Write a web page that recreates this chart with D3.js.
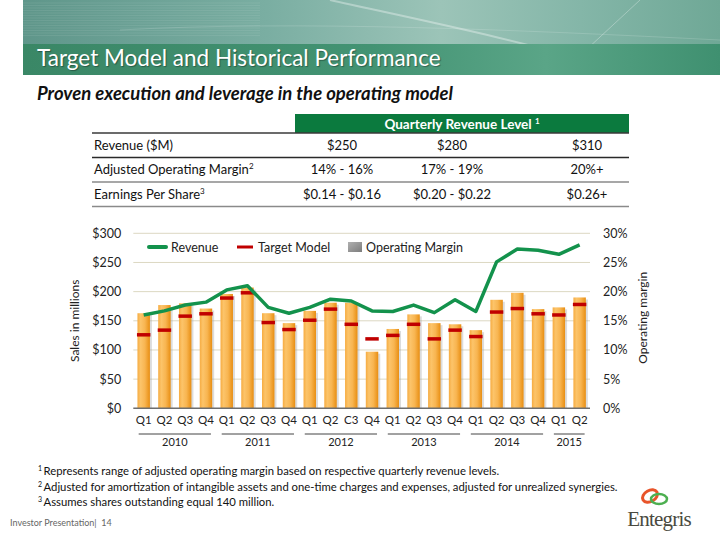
<!DOCTYPE html>
<html><head><meta charset="utf-8">
<script src="https://cdn.jsdelivr.net/npm/d3@7"></script>
<style>
body{margin:0;background:#fff;}
svg{display:block;font-family:Lato, "Open Sans", sans-serif;}
</style></head>
<body>
<script>
// ---------- data ----------
const quarters = ["Q1","Q2","Q3","Q4","Q1","Q2","Q3","Q4","Q1","Q2","C3","Q4","Q1","Q2","Q3","Q4","Q1","Q2","Q3","Q4","Q1","Q2"];
const quarterYears = ["2010","2010","2010","2010","2011","2011","2011","2011","2012","2012","2012","2012","2013","2013","2013","2013","2014","2014","2014","2014","2015","2015"];
const yearLabels = ["2010","2011","2012","2013","2014","2015"];
const revenue = [160,167,177,182,203,210,173,163,173,187,184,167,166,177,164,186,166,251,273,271,264,280];
const operatingMargin = [16.3,17.7,18.0,17.1,19.6,20.7,16.3,14.6,16.7,18.1,18.1,9.7,13.6,16.1,14.6,14.4,13.4,18.6,19.8,17.0,17.3,19.0];
const targetModel = [12.6,13.4,15.8,16.2,18.9,19.8,14.7,13.5,15.1,17.0,14.4,11.9,12.5,14.4,11.9,13.4,12.3,16.5,17.1,16.2,16.0,17.8];
const leftTicks = [0,50,100,150,200,250,300];
const rightTicks = [0,5,10,15,20,25,30];
const legendItems = ["Revenue","Target Model","Operating Margin"];

const tableRowLabels = ["Revenue ($M)","Adjusted Operating Margin","Earnings Per Share"];
const tableRowSups = ["","2","3"];
const tableCol250 = ["$250","14% - 16%","$0.14 - $0.16"];
const tableCol280 = ["$280","17% - 19%","$0.20 - $0.22"];
const tableCol310 = ["$310","20%+","$0.26+"];
const footnotes = [
  ["1","Represents range of adjusted operating margin based on respective quarterly revenue levels."],
  ["2","Adjusted for amortization of intangible assets and one-time charges and expenses, adjusted for unrealized synergies."],
  ["3","Assumes shares outstanding equal 140 million."]
];

// ---------- svg ----------
const W=720,H=540;
const svg=d3.select("body").append("svg").attr("width",W).attr("height",H);
const defs=svg.append("defs");

// header gradients
const hg1=defs.append("linearGradient").attr("id","hdrTop").attr("x1","0").attr("x2","1").attr("y1","0").attr("y2","0");
[[0,"#5f968a"],[0.35,"#7aaea2"],[0.6,"#9cc4b8"],[0.8,"#84b6a8"],[1,"#6fa896"]].forEach(s=>hg1.append("stop").attr("offset",s[0]).attr("stop-color",s[1]));
const hg2=defs.append("linearGradient").attr("id","hdrBand").attr("x1","0").attr("x2","1").attr("y1","0").attr("y2","0");
[[0,"#3a8766"],[0.5,"#439373"],[0.75,"#5aa587"],[1,"#3f9070"]].forEach(s=>hg2.append("stop").attr("offset",s[0]).attr("stop-color",s[1]));
const bg=defs.append("linearGradient").attr("id","barGrad").attr("x1","0").attr("x2","1").attr("y1","0").attr("y2","0");
[[0,"#f6ac42"],[0.25,"#fcc46a"],[0.6,"#f8b551"],[1,"#e88e12"]].forEach(s=>bg.append("stop").attr("offset",s[0]).attr("stop-color",s[1]));
const lg=defs.append("linearGradient").attr("id","legGrad").attr("x1","0").attr("x2","1").attr("y1","0").attr("y2","1");
[[0,"#b0b0b0"],[1,"#7c7c7c"]].forEach(s=>lg.append("stop").attr("offset",s[0]).attr("stop-color",s[1]));

// header
svg.append("rect").attr("x",23).attr("y",0).attr("width",W-23).attr("height",44).attr("fill","url(#hdrTop)");
for(let i=0;i<14;i++){
  svg.append("line").attr("x1",23).attr("x2",260).attr("y1",3+i*2.5).attr("y2",3+i*2.5)
    .attr("stroke","#ffffff").attr("stroke-opacity",0.08);
}
svg.append("path").attr("d","M330,0 C420,20 520,40 620,70").attr("stroke","#ffffff").attr("stroke-opacity",0.35).attr("fill","none").attr("stroke-width",2);
svg.append("path").attr("d","M560,74 L640,0").attr("stroke","#ffffff").attr("stroke-opacity",0.3).attr("fill","none");
svg.append("path").attr("d","M120,30 C300,20 520,30 720,40").attr("stroke","#ffffff").attr("stroke-opacity",0.15).attr("fill","none");
svg.append("rect").attr("x",23).attr("y",44).attr("width",W-23).attr("height",31).attr("fill","url(#hdrBand)");
svg.append("text").attr("x",37).attr("y",66).attr("fill","#fff").attr("font-size",22.5)
  .style("text-shadow","1px 1px 1px rgba(0,0,0,0.35)")
  .text("Target Model and Historical Performance");
svg.append("text").attr("x",37).attr("y",100).attr("fill","#111").attr("font-size",18.5)
  .attr("font-weight","bold").attr("font-style","italic")
  .text("Proven execution and leverage in the operating model");

// ---------- table ----------
const tX0=92,tX1=629;
const colCenters=[342,452,587];
svg.append("rect").attr("x",295).attr("y",114).attr("width",tX1-295).attr("height",19).attr("fill","#0b7a3e");
svg.append("text").attr("x",462).attr("y",128.5).attr("text-anchor","middle").attr("fill","#fff")
  .attr("font-size",13.5).attr("font-weight","bold")
  .text("Quarterly Revenue Level ").append("tspan").attr("font-size",8).attr("dy",-5).text("1");
const rowTop=[133,157.5,182];
const rowH=24.5;
svg.append("line").attr("x1",tX0).attr("x2",tX1).attr("y1",133).attr("y2",133).attr("stroke","#3a3a3a").attr("stroke-width",1.5);
tableRowLabels.forEach((lab,i)=>{
  const cy=rowTop[i]+rowH/2+4.5;
  const t=svg.append("text").attr("x",94).attr("y",cy).attr("font-size",13).attr("fill","#111").text(lab);
  if(tableRowSups[i]) t.append("tspan").attr("font-size",8).attr("dy",-5).text(tableRowSups[i]);
  [tableCol250,tableCol280,tableCol310].forEach((col,j)=>{
    svg.append("text").attr("x",colCenters[j]).attr("y",cy).attr("text-anchor","middle").attr("font-size",13).attr("fill","#111").text(col[i]);
  });
  svg.append("line").attr("x1",tX0).attr("x2",tX1).attr("y1",rowTop[i]+rowH).attr("y2",rowTop[i]+rowH)
    .attr("stroke",i===0?"#2a2a2a":"#8a8a8a").attr("stroke-width",i===0?1.3:1.5);
});

// ---------- chart ----------
const x0=133.3,x1=590,yB=408.3,yT=233.3;
const idx=quarters.map((q,i)=>i);
const x=d3.scaleBand().domain(idx).range([x0,x1]).paddingInner(0.4).paddingOuter(0.2);
const yL=d3.scaleLinear().domain([0,300]).range([yB,yT]);
const yR=d3.scaleLinear().domain([0,30]).range([yB,yT]);

// grid
svg.append("g").selectAll("line").data(leftTicks.filter(d=>d>0)).join("line")
  .attr("x1",x0).attr("x2",x1).attr("y1",d=>yL(d)).attr("y2",d=>yL(d))
  .attr("stroke","#dcd8c2").attr("stroke-width",1);

// left axis
const gL=svg.append("g").attr("transform",`translate(${x0-9},0)`)
  .call(d3.axisLeft(yL).tickValues(leftTicks).tickSize(0).tickPadding(3).tickFormat(d=>"$"+d));
gL.select(".domain").remove();
gL.selectAll("text").attr("font-size",12.5).attr("fill","#222").attr("font-family","Lato, sans-serif");
// right axis
const gR=svg.append("g").attr("transform",`translate(${x1+10},0)`)
  .call(d3.axisRight(yR).tickValues(rightTicks).tickSize(0).tickPadding(3).tickFormat(d=>d+"%"));
gR.select(".domain").remove();
gR.selectAll("text").attr("font-size",12.5).attr("fill","#222").attr("font-family","Lato, sans-serif");

svg.append("text").attr("transform",`translate(79,${(yB+yT)/2}) rotate(-90)`).attr("text-anchor","middle")
  .attr("font-size",12).attr("fill","#222").text("Sales in millions");
svg.append("text").attr("transform",`translate(647,${(yB+yT)/2-3}) rotate(-90)`).attr("text-anchor","middle")
  .attr("font-size",12).attr("fill","#222").text("Operating margin");

// bar shadows + bars
svg.append("g").selectAll("rect").data(operatingMargin).join("rect")
  .attr("x",(d,i)=>x(i)+2).attr("y",d=>yR(d)+2).attr("width",x.bandwidth()).attr("height",d=>yB-yR(d)-2)
  .attr("fill","#9a9a9a").attr("opacity",0.35);
svg.append("g").selectAll("rect").data(operatingMargin).join("rect")
  .attr("x",(d,i)=>x(i)).attr("y",d=>yR(d)).attr("width",x.bandwidth()).attr("height",d=>yB-yR(d))
  .attr("fill","url(#barGrad)");

// baseline
svg.append("line").attr("x1",x0).attr("x2",x1).attr("y1",yB).attr("y2",yB).attr("stroke","#6e6e6e").attr("stroke-width",1.5);

// target model dashes
svg.append("g").selectAll("line").data(targetModel).join("line")
  .attr("x1",(d,i)=>x(i)-0.5).attr("x2",(d,i)=>x(i)+x.bandwidth()+0.5)
  .attr("y1",d=>yR(d)).attr("y2",d=>yR(d))
  .attr("stroke","#c00000").attr("stroke-width",3.5);

// revenue line
const line=d3.line().x((d,i)=>x(i)+x.bandwidth()/2).y(d=>yL(d));
svg.append("path").datum(revenue).attr("d",line).attr("fill","none")
  .attr("stroke","#13924c").attr("stroke-width",3.5).attr("stroke-linejoin","round");

// x labels
svg.append("g").selectAll("text").data(quarters).join("text")
  .attr("x",(d,i)=>x(i)+x.bandwidth()/2).attr("y",424).attr("text-anchor","middle")
  .attr("font-size",11.5).attr("fill","#222").text(d=>d);
// year groups
yearLabels.forEach(yr=>{
  const ids=idx.filter(i=>quarterYears[i]===yr);
  const a=x(ids[0])+x.bandwidth()/2-5, b=x(ids[ids.length-1])+x.bandwidth()/2+5;
  svg.append("line").attr("x1",a).attr("x2",b).attr("y1",434).attr("y2",434).attr("stroke","#444").attr("stroke-width",1);
  svg.append("text").attr("x",(a+b)/2).attr("y",446).attr("text-anchor","middle").attr("font-size",11).attr("fill","#222").text(yr);
});

// legend
const ly=247;
svg.append("line").attr("x1",149).attr("x2",166).attr("y1",ly).attr("y2",ly).attr("stroke","#13924c").attr("stroke-width",4).attr("stroke-linecap","round");
svg.append("text").attr("x",171).attr("y",ly+4.5).attr("font-size",12.5).attr("fill","#222").text(legendItems[0]);
svg.append("line").attr("x1",237).attr("x2",253).attr("y1",ly).attr("y2",ly).attr("stroke","#c00000").attr("stroke-width",3);
svg.append("text").attr("x",258).attr("y",ly+4.5).attr("font-size",12.5).attr("fill","#222").text(legendItems[1]);
svg.append("rect").attr("x",348).attr("y",ly-5).attr("width",14).attr("height",10).attr("fill","url(#legGrad)");
svg.append("text").attr("x",366).attr("y",ly+4.5).attr("font-size",12.5).attr("fill","#222").text(legendItems[2]);

// footnotes
const fy=[475,491,506];
footnotes.forEach((f,i)=>{
  const t=svg.append("text").attr("x",38).attr("y",fy[i]).attr("font-size",11.3).attr("fill","#111");
  t.append("tspan").attr("font-size",7).attr("dy",-4).text(f[0]);
  t.append("tspan").attr("dy",4).attr("dx",1.5).text(f[1]);
});
svg.append("text").attr("x",10).attr("y",526).attr("font-size",9).attr("fill","#666").attr("xml:space","preserve").text("Investor Presentation|  14");

// logo
svg.append("ellipse").attr("cx",650).attr("cy",496).attr("rx",8).attr("ry",5.5).attr("fill","none").attr("stroke","#e8542a").attr("stroke-width",3).attr("transform","rotate(-30,650,496)");
svg.append("ellipse").attr("cx",659).attr("cy",499).attr("rx",8).attr("ry",5).attr("fill","none").attr("stroke","#4caf50").attr("stroke-width",2.5);
svg.append("text").attr("x",659).attr("y",526).attr("text-anchor","middle").attr("font-family","'Liberation Serif', 'DejaVu Serif', serif")
  .attr("font-size",21).attr("fill","#4a4a40").attr("letter-spacing",-0.8).text("Entegris");
</script>
</body></html>
